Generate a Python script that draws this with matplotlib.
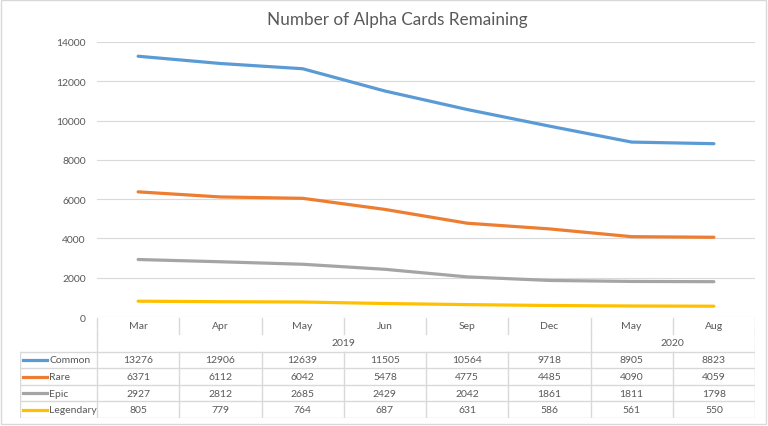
import numpy as np
import matplotlib.pyplot as plt
from matplotlib.patches import Rectangle

plt.rcParams['font.family'] = ['Lato', 'DejaVu Sans']

# data
months = ["Mar", "Apr", "May", "Jun", "Sep", "Dec", "May", "Aug"]
years = ["2019", "2020"]
year_spans = [(0, 6), (6, 8)]  # category index ranges for each year
series_names = ["Common", "Rare", "Epic", "Legendary"]
common = [13276, 12906, 12639, 11505, 10564, 9718, 8905, 8823]
rare = [6371, 6112, 6042, 5478, 4775, 4485, 4090, 4059]
epic = [2927, 2812, 2685, 2429, 2042, 1861, 1811, 1798]
legendary = [805, 779, 764, 687, 631, 586, 561, 550]
colors = ["#5B9BD5", "#ED7D31", "#A5A5A5", "#FFC000"]
yticks = [0, 2000, 4000, 6000, 8000, 10000, 12000, 14000]

series = [common, rare, epic, legendary]
txt = "#595959"
grid = "#D9D9D9"
W, H = 768, 427

fig = plt.figure(figsize=(W / 100, H / 100), dpi=100)
fig.patches.append(Rectangle((0.001, 0.004), 0.997, 0.994, transform=fig.transFigure,
                             fill=False, edgecolor="#D9D9D9", lw=1))

# plot area in pixels
px_l, px_r, px_t, px_b = 97, 755, 43, 318
ax = fig.add_axes([px_l / W, 1 - px_b / H, (px_r - px_l) / W, (px_b - px_t) / H])
x = np.arange(len(months))
for vals, c in zip(series, colors):
    ax.plot(x, vals, color=c, lw=2.3, solid_joinstyle="round", solid_capstyle="round")
ax.set_xlim(-0.5, len(months) - 0.5)
ax.set_ylim(0, 14000)
ax.set_yticks(yticks)
ax.set_yticklabels([str(v) for v in yticks], color=txt, fontsize=7.5)
ax.tick_params(axis="y", length=0, pad=8)
ax.set_xticks([])
ax.grid(axis="y", color=grid, lw=0.8)
ax.set_axisbelow(True)
for s in ax.spines.values():
    s.set_visible(False)

fig.text(397 / W, 1 - 20.5 / H, "Number of Alpha Cards Remaining", ha="center", va="center",
         fontsize=12.3, color=txt)

# data table below the plot
tb_l, tb_b = 20, 419
cw = (px_r - px_l) / len(months)
left_x = -0.5 - (px_l - tb_l) / cw
tax = fig.add_axes([tb_l / W, 1 - tb_b / H, (px_r - tb_l) / W, (tb_b - px_b) / H])
tax.set_xlim(left_x, len(months) - 0.5)
tax.set_ylim(tb_b - px_b, 0)
tax.axis("off")

h_month, h_year = 17.0, 34.7
rh = (tb_b - px_b - h_year) / len(series)
lk = dict(color=grid, lw=1)
fs = 7.5

# header lines
for i in range(len(months) + 1):
    tax.plot([i - 0.5, i - 0.5], [1, h_month], **lk)
for i in range(len(months)):
    tax.text(i, h_month / 2 + 0.5, months[i], ha="center", va="center", fontsize=fs, color=txt)
for yr, (a, b) in zip(years, year_spans):
    tax.plot([a - 0.5, a - 0.5], [h_month, h_year], **lk)
    tax.text((a + b - 1) / 2, (h_month + h_year) / 2, yr, ha="center", va="center",
             fontsize=fs, color=txt)
tax.plot([len(months) - 0.5] * 2, [h_month, h_year], **lk)

# body
for r in range(len(series) + 1):
    tax.plot([left_x, len(months) - 0.5], [h_year + r * rh] * 2, **lk)
for xv in [left_x] + [i - 0.5 for i in range(len(months) + 1)]:
    tax.plot([xv, xv], [h_year, h_year + len(series) * rh], **lk)
key_x0 = left_x + 3 / cw
for r, (name, vals, c) in enumerate(zip(series_names, series, colors)):
    yc = h_year + (r + 0.5) * rh
    tax.plot([key_x0, key_x0 + 24 / cw], [yc, yc], color=c, lw=2.3)
    tax.text(key_x0 + 26 / cw, yc, name, ha="left", va="center", fontsize=fs, color=txt)
    for i, v in enumerate(vals):
        tax.text(i, yc, str(v), ha="center", va="center", fontsize=fs, color=txt)

fig.savefig("out.png", dpi=100)
